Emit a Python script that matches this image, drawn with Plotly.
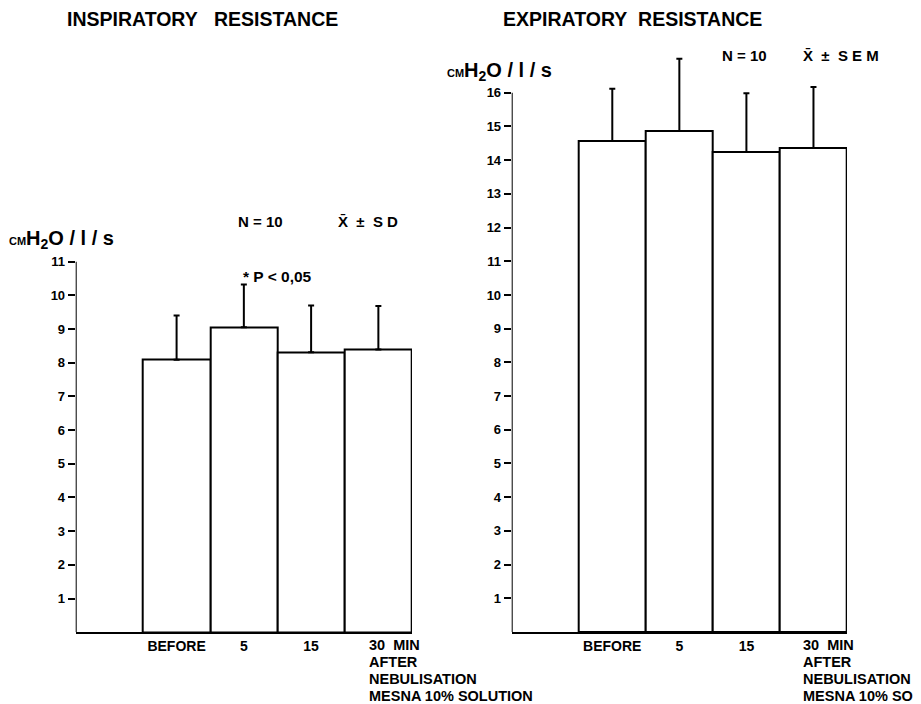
import plotly.graph_objects as go

# measured mapping of figure pixels to the photographed page
OX, OY, SX, SY = 8.0, 15.0, 1.0, 0.99
FW, FH = 913, 696

# ---- data ----
positions = [1, 2, 3, 4]
tick_pos = [1, 2, 3]
tick_labels = ["BEFORE", "5", "15"]
bottom_lines = ["30&nbsp;&nbsp;MIN", "AFTER", "NEBULISATION", "MESNA 10% SOLUTION"]
insp_mean = [8.09, 9.05, 8.31, 8.39]
insp_sd = [1.31, 1.27, 1.39, 1.29]
exp_mean = [14.57, 14.87, 14.24, 14.36]
exp_sem = [1.55, 2.14, 1.75, 1.81]
insp_yticks = list(range(1, 12))
exp_yticks = list(range(1, 17))


def px_x(p):
    return ((p - OX) / SX) / FW


def px_y(p):
    return 1 - ((p - OY) / SY) / FH


FONT = "Liberation Sans, Arial, sans-serif"

fig = go.Figure()

for mean, err, xa, ya in [(insp_mean, insp_sd, "x", "y"), (exp_mean, exp_sem, "x2", "y2")]:
    fig.add_trace(go.Bar(
        x=positions, y=mean, width=1.0,
        marker=dict(color="white", line=dict(color="black", width=2)),
        error_y=dict(type="data", symmetric=False, array=err,
                     arrayminus=[0] * len(err), color="black",
                     thickness=2, width=3),
        xaxis=xa, yaxis=ya, showlegend=False,
    ))

xaxis_common = dict(showgrid=False, zeroline=False, showline=True,
                    linecolor="black", linewidth=2, range=[-0.5, 4.5],
                    tickvals=tick_pos, ticktext=tick_labels, ticks="",
                    tickfont=dict(family=FONT, size=14, color="black", weight="bold"))
yaxis_common = dict(showgrid=False, zeroline=False, showline=False,
                    ticks="outside", ticklen=7, tickwidth=2, tickcolor="black",
                    tickfont=dict(family=FONT, size=13, color="black", weight="bold"))

UNIT = 33.7  # reference pixels per unit on both charts
L_BASE, R_BASE = 632.3, 632.0
L_TOP_V, R_TOP_V = 11.0, 17.6

fig.update_layout(
    width=FW, height=FH, autosize=False,
    margin=dict(l=0, r=0, t=0, b=0),
    paper_bgcolor="white", plot_bgcolor="white",
    bargap=0,
    xaxis=dict(domain=[px_x(75.7), px_x(412)], anchor="y", **xaxis_common),
    yaxis=dict(domain=[px_y(L_BASE), px_y(L_BASE - L_TOP_V * UNIT)], range=[0, L_TOP_V],
               tickvals=insp_yticks, anchor="x", **yaxis_common),
    xaxis2=dict(domain=[px_x(511.7), px_x(847)], anchor="y2", **xaxis_common),
    yaxis2=dict(domain=[px_y(R_BASE), px_y(R_BASE - R_TOP_V * UNIT)], range=[0, R_TOP_V],
                tickvals=exp_yticks, anchor="x2", **yaxis_common),
)

# y axis lines, ending at the top tick
fig.add_shape(type="line", xref="x", yref="y", x0=-0.5, x1=-0.5, y0=0, y1=insp_yticks[-1],
              line=dict(color="black", width=2))
fig.add_shape(type="line", xref="x2", yref="y2", x0=-0.5, x1=-0.5, y0=0, y1=exp_yticks[-1],
              line=dict(color="black", width=2))


def note(text, x, y, size=14, xanchor="left", yanchor="middle", bold=True, **kw):
    t = f"<b>{text}</b>" if bold else text
    fig.add_annotation(text=t, x=px_x(x), y=px_y(y), xref="paper", yref="paper",
                       xanchor=xanchor, yanchor=yanchor, showarrow=False,
                       font=dict(family=FONT, size=size, color="black"), **kw)


# titles
note("INSPIRATORY&nbsp;&nbsp;&nbsp;RESISTANCE", 65, 19.5, size=19.5)
note("EXPIRATORY&nbsp;&nbsp;RESISTANCE", 501, 19.5, size=19.5)

# y axis unit labels
unit = "<span style='font-size:11px'>CM</span>H<sub>2</sub>O / l / s"
note(unit, 7, 240, size=20)
note(unit, 445, 72, size=20)

# N and statistics
note("N = 10", 236, 222, size=15)
note("X\u0304&nbsp;&nbsp;\u00b1&nbsp;&nbsp;S D", 336, 222, size=15)
note("N = 10", 720, 56, size=15)
note("X\u0304&nbsp;&nbsp;\u00b1&nbsp;&nbsp;S E M", 801, 56, size=15)
note("* P < 0,05", 241, 277, size=15.5)

# bottom multi-line labels
for i, line in enumerate(bottom_lines):
    note(line, 367, 645 + i * 17, size=14.5)
    note(line, 801, 645 + i * 17, size=14.5)

fig.write_html("out.html")
